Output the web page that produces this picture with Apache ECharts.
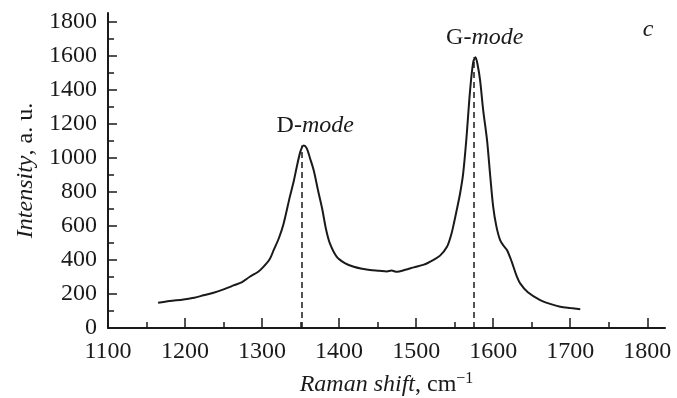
<!DOCTYPE html>
<html>
<head>
<meta charset="utf-8">
<script src="https://cdn.jsdelivr.net/npm/echarts@6/dist/echarts.min.js"></script>
<style>
  html, body { margin: 0; padding: 0; background: #fff; }
  #chart { width: 677px; height: 398px; }
</style>
</head>
<body>
<div id="chart"></div>
<script>
// Raman spectrum
const ramanShift = [
  1165, 1180, 1198, 1212, 1224, 1237, 1250, 1263, 1274, 1284, 1295, 1302, 1310, 1315, 1322,
  1328, 1336, 1341, 1345, 1350, 1354, 1358, 1362, 1367, 1373, 1378, 1383, 1388, 1397, 1408,
  1419, 1430, 1440, 1452, 1462, 1468, 1475, 1486, 1497, 1510, 1522, 1531, 1540, 1545, 1548,
  1553, 1557, 1561, 1565, 1570, 1574, 1577, 1580, 1583, 1587, 1592, 1596, 1600, 1604, 1609,
  1614, 1618, 1624, 1630, 1635, 1645, 1661, 1675, 1687, 1700, 1713
];
const intensity = [
  148, 158, 168, 178, 192, 207, 227, 250, 270, 301, 330, 360, 405, 457, 530,
  614, 770, 860, 946, 1040, 1072, 1055, 1000, 926, 800, 700, 580, 497, 418, 380,
  360, 348, 340, 336, 332, 337, 330, 342, 356, 372, 399, 425, 477, 540, 594,
  700, 790, 907, 1100, 1396, 1560, 1590, 1540, 1454, 1280, 1103, 900, 711, 600, 516,
  480, 457, 390, 310, 262, 210, 164, 140, 125, 117, 110
];

const xTicks = [1100, 1200, 1300, 1400, 1500, 1600, 1700, 1800];
const xMinorTicks = [1150, 1250, 1350, 1450, 1550, 1650, 1750];
const yTicks = [0, 200, 400, 600, 800, 1000, 1200, 1400, 1600, 1800];
const yMinorTicks = [100, 300, 500, 700, 900, 1100, 1300, 1500, 1700];

// peak positions for the dashed guides
const dPeak = [1352, 1072];
const gPeak = [1575, 1590];

const ink = '#1a1a1a';
const serif = '"Liberation Serif", "DejaVu Serif", serif';

const chart = echarts.init(document.getElementById('chart'), null, { renderer: 'canvas' });

const labelRich = {
  n: { fontFamily: serif, fontSize: 24, color: ink },
  i: { fontFamily: serif, fontSize: 24, color: ink, fontStyle: 'italic' }
};

chart.setOption({
  animation: false,
  backgroundColor: '#fff',
  grid: { left: 108, right: 12, top: 13, bottom: 70, containLabel: false, outerBoundsMode: 'none' },
  xAxis: [{
    type: 'value',
    min: 1100,
    max: 1823,
    name: '{i|Raman shift}{n|, cm}{s|\u22121}',
    nameLocation: 'middle',
    nameGap: 43,
    nameTextStyle: {
      rich: {
        i: { fontFamily: serif, fontSize: 24, fontStyle: 'italic', color: ink, lineHeight: 28 },
        n: { fontFamily: serif, fontSize: 24, color: ink, lineHeight: 28 },
        s: { fontFamily: serif, fontSize: 16, color: ink, lineHeight: 28, verticalAlign: 'top' }
      }
    },
    axisLine: { onZero: false, lineStyle: { color: ink, width: 2 } },
    axisTick: { inside: true, length: 10, customValues: xTicks, lineStyle: { color: ink, width: 1.5 } },
    axisLabel: {
      customValues: xTicks,
      formatter: (v) => String(v),
      margin: 12,
      fontFamily: serif, fontSize: 24, color: ink
    },
    splitLine: { show: false }
  }, {
    type: 'value',
    min: 1100,
    max: 1823,
    position: 'bottom',
    axisLine: { show: false },
    axisTick: { inside: true, length: 6, customValues: xMinorTicks, lineStyle: { color: ink, width: 1.5 } },
    axisLabel: { show: false },
    splitLine: { show: false }
  }],
  yAxis: [{
    type: 'value',
    min: 0,
    max: 1850,
    name: '{i|Intensity}{n|, a. u.}',
    nameLocation: 'middle',
    nameGap: 69,
    nameTextStyle: { rich: labelRich },
    axisLine: { onZero: false, lineStyle: { color: ink, width: 2 } },
    axisTick: { inside: true, length: 9, customValues: yTicks, lineStyle: { color: ink, width: 1.5 } },
    axisLabel: {
      customValues: yTicks,
      formatter: (v) => String(v),
      margin: 11,
      fontFamily: serif, fontSize: 24, color: ink
    },
    splitLine: { show: false }
  }, {
    type: 'value',
    min: 0,
    max: 1850,
    position: 'left',
    axisLine: { show: false },
    axisTick: { inside: true, length: 6, customValues: yMinorTicks, lineStyle: { color: ink, width: 1.5 } },
    axisLabel: { show: false },
    splitLine: { show: false }
  }],
  series: [{
    type: 'line',
    data: ramanShift.map((x, i) => [x, intensity[i]]),
    showSymbol: false,
    smooth: 0.3,
    lineStyle: { color: ink, width: 2 },
    markLine: {
      silent: true,
      symbol: 'none',
      label: { show: false },
      lineStyle: { color: ink, width: 1.5, type: [6, 4] },
      data: [
        [{ coord: [dPeak[0], 0] }, { coord: dPeak }],
        [{ coord: [gPeak[0], 0] }, { coord: gPeak }]
      ]
    },
    markPoint: {
      silent: true,
      symbol: 'circle',
      symbolSize: 0,
      label: { show: true, position: 'inside', rich: labelRich },
      data: [
        { coord: [1369, 1190], label: { formatter: '{n|D-}{i|mode}' } },
        { coord: [1589, 1707], label: { formatter: '{n|G-}{i|mode}' } },
        { coord: [1801, 1754], label: { formatter: '{i|c}' } }
      ]
    }
  }]
});
</script>
</body>
</html>
